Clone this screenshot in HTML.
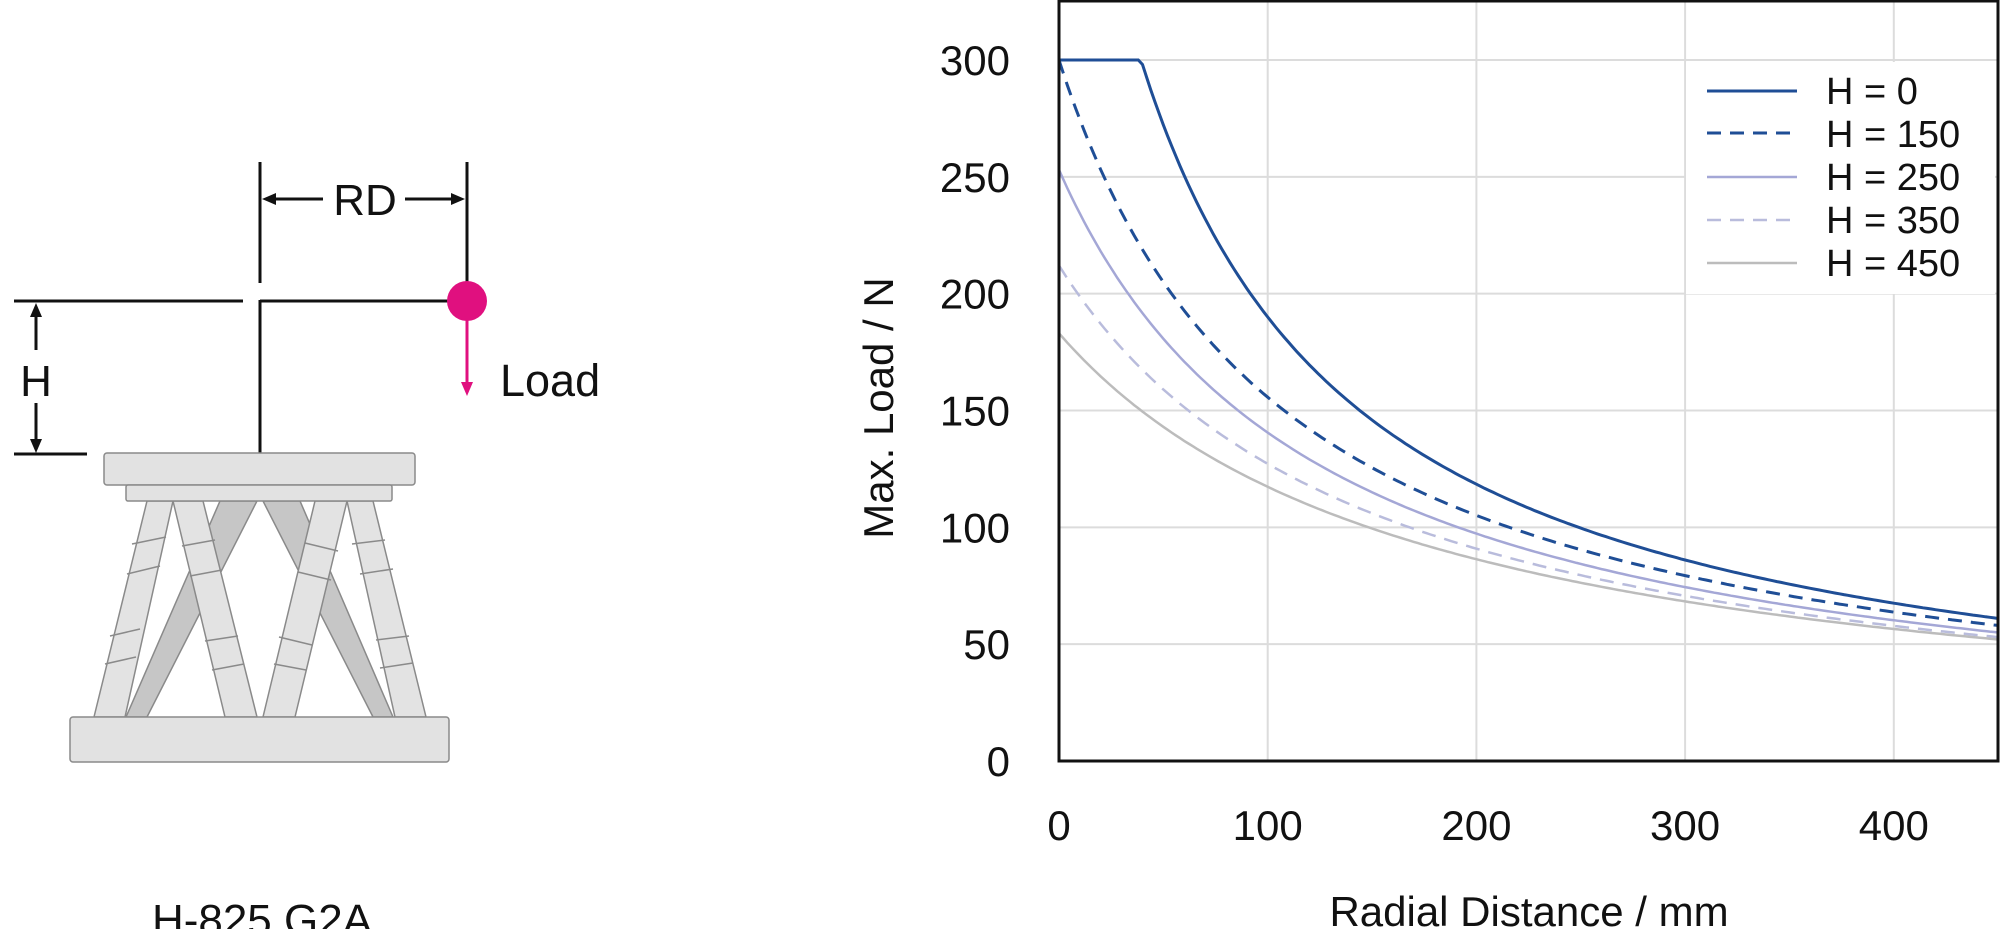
<!DOCTYPE html>
<html><head><meta charset="utf-8">
<style>
html,body{margin:0;padding:0;background:#fff;}
svg{display:block;font-family:"Liberation Sans",Arial,sans-serif;}
</style></head>
<body>
<svg id="s" width="2000" height="929" viewBox="0 0 2000 929" xmlns="http://www.w3.org/2000/svg">
<!-- Illustration -->
<g stroke="#111" stroke-width="3" fill="none">
  <line x1="260" y1="162" x2="260" y2="283"/>
  <line x1="260" y1="300" x2="260" y2="454"/>
  <line x1="467" y1="162" x2="467" y2="285"/>
  <line x1="14" y1="301" x2="243" y2="301"/>
  <line x1="260" y1="301" x2="450" y2="301"/>
  <line x1="14" y1="454" x2="87" y2="454"/>
  <line x1="36" y1="315" x2="36" y2="350"/>
  <line x1="36" y1="403" x2="36" y2="440"/>
  <line x1="270" y1="199" x2="323" y2="199"/>
  <line x1="405" y1="199" x2="457" y2="199"/>
</g>
<g fill="#111">
  <polygon points="262,199 276,193 276,205"/>
  <polygon points="465,199 451,193 451,205"/>
  <polygon points="36,303 30,317 42,317"/>
  <polygon points="36,453 30,439 42,439"/>
</g>
<text x="365" y="215" font-size="44" text-anchor="middle" fill="#111">RD</text>
<text x="36" y="396" font-size="44" text-anchor="middle" fill="#111">H</text>
<text x="500" y="396" font-size="45" fill="#111">Load</text>
<line x1="467" y1="315" x2="467" y2="385" stroke="#e0107f" stroke-width="3"/>
<polygon points="467,396 461,382 473,382" fill="#e0107f"/>
<circle cx="467" cy="301" r="20" fill="#e0107f"/>

<!-- hexapod -->
<g stroke="#8a8a8a" stroke-width="1.5">
  <polygon points="220,501 257,501 147,717 126,717" fill="#c6c6c6"/>
  <polygon points="263,501 300,501 393,717 373,717" fill="#c6c6c6"/>
  <polygon points="147,501 173,501 125,717 94,717" fill="#e3e3e3"/>
  <polygon points="173,501 203,501 257,717 225,717" fill="#e3e3e3"/>
  <polygon points="315,501 347,501 295,717 263,717" fill="#e3e3e3"/>
  <polygon points="347,501 373,501 426,717 395,717" fill="#e3e3e3"/>
  <line x1="132" y1="544" x2="166" y2="537"/><line x1="127" y1="574" x2="160" y2="566"/>
  <line x1="110" y1="636" x2="140" y2="629"/><line x1="105" y1="664" x2="136" y2="657"/>
  <line x1="182" y1="546" x2="215" y2="540"/><line x1="190" y1="576" x2="222" y2="570"/>
  <line x1="205" y1="641" x2="238" y2="636"/><line x1="212" y1="670" x2="244" y2="664"/>
  <line x1="305" y1="543" x2="338" y2="551"/><line x1="298" y1="572" x2="331" y2="580"/>
  <line x1="279" y1="637" x2="312" y2="645"/><line x1="274" y1="664" x2="306" y2="670"/>
  <line x1="352" y1="544" x2="385" y2="540"/><line x1="360" y1="574" x2="393" y2="569"/>
  <line x1="376" y1="640" x2="409" y2="636"/><line x1="380" y1="668" x2="413" y2="663"/>
  <rect x="104" y="453" width="311" height="32" rx="3" fill="#e2e2e2"/>
  <rect x="126" y="485" width="266" height="16" rx="2" fill="#e2e2e2"/>
  <rect x="70" y="717" width="379" height="45" rx="3" fill="#e2e2e2"/>
</g>
<text x="262" y="935" font-size="44" text-anchor="middle" fill="#111">H-825.G2A</text>

<!-- chart -->
<g id="grid" stroke="#dcdcdc" stroke-width="2"></g>
<rect x="1686" y="62" width="309" height="232" fill="#fff"/>
<g id="curves" fill="none"></g>
<rect x="1059" y="1" width="939" height="760" fill="none" stroke="#111" stroke-width="3"/>
<g font-size="42" fill="#111" id="labels"></g>
<text x="1529" y="926" font-size="42" text-anchor="middle" fill="#111">Radial Distance / mm</text>
<text transform="translate(893,408) rotate(-90)" font-size="42" text-anchor="middle" fill="#111">Max. Load / N</text>
<!-- legend -->
<g stroke-width="3">
  <line x1="1707" y1="91" x2="1797" y2="91" stroke="#1f4e96"/>
  <line x1="1707" y1="133" x2="1797" y2="133" stroke="#1f4e96" stroke-dasharray="14,9"/>
  <line x1="1707" y1="177" x2="1797" y2="177" stroke="#a4a7d6" stroke-width="2.5"/>
  <line x1="1707" y1="220" x2="1797" y2="220" stroke="#b9bcdc" stroke-width="2.5" stroke-dasharray="14,9"/>
  <line x1="1707" y1="263" x2="1797" y2="263" stroke="#bcbcbc" stroke-width="2.5"/>
</g>
<g font-size="38" fill="#111">
  <text x="1826" y="104">H = 0</text>
  <text x="1826" y="147">H = 150</text>
  <text x="1826" y="190">H = 250</text>
  <text x="1826" y="233">H = 350</text>
  <text x="1826" y="276">H = 450</text>
</g>
</svg>
<script>
(function(){
var NS="http://www.w3.org/2000/svg";
function X(v){return 1059+v*2.087;}
function Y(v){return 761-v*2.3367;}
var g=document.getElementById("grid"),lab=document.getElementById("labels");
function el(p,t,a){var e=document.createElementNS(NS,t);for(var k in a)e.setAttribute(k,a[k]);p.appendChild(e);return e;}
for(var i=1;i<=4;i++){el(g,"line",{x1:X(i*100),y1:1,x2:X(i*100),y2:761});}
for(var j=1;j<=6;j++){el(g,"line",{x1:1059,y1:Y(j*50),x2:1998,y2:Y(j*50)});}
for(var j=0;j<=6;j++){var t=el(lab,"text",{x:1010,y:Y(j*50)+15,"text-anchor":"end"});t.textContent=String(j*50);}
for(var i=0;i<=4;i++){var t=el(lab,"text",{x:X(i*100),y:840,"text-anchor":"middle"});t.textContent=String(i*100);}
var cg=document.getElementById("curves");
var S=[[31445,65.5,"#1f4e96",3,null],[32366,107.9,"#1f4e96",3,"14,9"],[31625,125,"#a4a7d6",2.5,null],[31800,150,"#b9bcdc",2.5,"14,9"],[32690,178.6,"#bcbcbc",2.5,null]];
S.forEach(function(s){var d="";for(var x=0;x<=450;x+=2){var v=Math.min(300,s[0]/(x+s[1]));d+=(x?"L":"M")+X(x).toFixed(1)+","+Y(v).toFixed(1);}
var a={d:d,stroke:s[2],"stroke-width":s[3]};if(s[4])a["stroke-dasharray"]=s[4];el(cg,"path",a);});
})();
</script>
</body></html>
